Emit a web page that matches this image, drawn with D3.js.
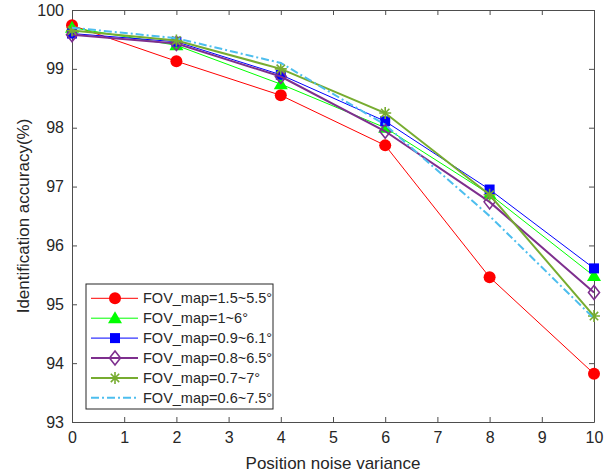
<!DOCTYPE html>
<html>
<head>
<meta charset="utf-8">
<script src="https://cdn.jsdelivr.net/npm/d3@7"></script>
<style>
  body { margin: 0; background: #fff; }
  svg text { font-family: "Liberation Sans", Arial, sans-serif; fill: #262626; }
</style>
</head>
<body>
<div id="chart"></div>
<script>
// data
let xValues = [0, 2, 4, 6, 8, 10];
let seriesNames = ["FOV_map=1.5~5.5°", "FOV_map=1~6°", "FOV_map=0.9~6.1°",
                   "FOV_map=0.8~6.5°", "FOV_map=0.7~7°", "FOV_map=0.6~7.5°"];
let acc15 = [99.74, 99.13, 98.55, 97.70, 95.46, 93.82];
let acc10 = [99.70, 99.40, 98.74, 98.00, 96.87, 95.48];
let acc09 = [99.60, 99.46, 98.90, 98.11, 96.95, 95.61];
let acc08 = [99.58, 99.43, 98.87, 97.94, 96.74, 95.20];
let acc07 = [99.65, 99.48, 99.00, 98.25, 96.86, 94.80];
let acc06 = [99.70, 99.52, 99.10, 98.05, 96.50, 94.76];
let xTicks = [0, 1, 2, 3, 4, 5, 6, 7, 8, 9, 10];
let yTicks = [93, 94, 95, 96, 97, 98, 99, 100];

let styles = [
  {color: "#ff0000", width: 1, marker: "circle", dash: null},
  {color: "#00ff00", width: 1, marker: "triangle", dash: null},
  {color: "#0000ff", width: 1, marker: "square", dash: null},
  {color: "#7e2f8e", width: 2, marker: "diamond", dash: null},
  {color: "#77ac30", width: 2, marker: "star", dash: null},
  {color: "#4dbeee", width: 2, marker: "none", dash: "8,3,2,3"}
];
let allSeries = [acc15, acc10, acc09, acc08, acc07, acc06];

let W = 613, H = 476;
let margin = {left: 72, top: 10, right: 19, bottom: 54};
let iw = W - margin.left - margin.right, ih = H - margin.top - margin.bottom;

var svg = d3.select("#chart").append("svg")
    .attr("width", W).attr("height", H);

var x = d3.scaleLinear().domain([0, 10]).range([0, iw]);
var y = d3.scaleLinear().domain([93, 100]).range([ih, 0]);

var g = svg.append("g").attr("transform", "translate(" + margin.left + "," + margin.top + ")");

function styleAxis(sel) {
  sel.selectAll("path").attr("stroke", "#4d4d4d").attr("stroke-width", 1);
  sel.selectAll("line").attr("stroke", "#4d4d4d");
  sel.selectAll("text").style("font-size", "16px").attr("fill", "#262626");
}

g.append("g").attr("transform", "translate(0," + ih + ")")
  .call(d3.axisBottom(x).tickValues(xTicks).tickFormat(d3.format("d")).tickSize(-5).tickPadding(10).tickSizeOuter(0))
  .call(styleAxis);
g.append("g")
  .call(d3.axisLeft(y).tickValues(yTicks).tickFormat(d3.format("d")).tickSize(-5).tickPadding(8).tickSizeOuter(0))
  .call(styleAxis);
g.append("g")
  .call(d3.axisTop(x).tickValues(xTicks).tickSize(-5).tickFormat("").tickSizeOuter(0))
  .call(styleAxis);
g.append("g").attr("transform", "translate(" + iw + ",0)")
  .call(d3.axisRight(y).tickValues(yTicks).tickSize(-5).tickFormat("").tickSizeOuter(0))
  .call(styleAxis);

// axis titles
svg.append("text")
  .attr("x", margin.left + iw / 2).attr("y", 469)
  .attr("text-anchor", "middle").style("font-size", "17px")
  .text("Position noise variance");
svg.append("text")
  .attr("transform", "translate(29," + (margin.top + ih / 2) + ") rotate(-90)")
  .attr("text-anchor", "middle").style("font-size", "17px")
  .text("Identification accuracy(%)");

var line = d3.line().x((d, i) => x(xValues[i])).y(d => y(d));

function drawMarker(sel, st, cx, cy) {
  if (st.marker == "circle") {
    sel.append("circle").attr("cx", cx).attr("cy", cy).attr("r", 6).attr("fill", st.color);
  } else if (st.marker == "triangle") {
    sel.append("path").attr("transform", "translate(" + cx + "," + cy + ")")
      .attr("d", "M0,-7L7,5L-7,5Z").attr("fill", st.color);
  } else if (st.marker == "square") {
    sel.append("rect").attr("x", cx - 5).attr("y", cy - 5).attr("width", 10).attr("height", 10)
      .attr("fill", st.color);
  } else if (st.marker == "diamond") {
    sel.append("path").attr("transform", "translate(" + cx + "," + cy + ")")
      .attr("d", "M0,-7L5.5,0L0,7L-5.5,0Z").attr("fill", "none")
      .attr("stroke", st.color).attr("stroke-width", 1.6);
  } else if (st.marker == "star") {
    sel.append("path").attr("transform", "translate(" + cx + "," + cy + ")")
      .attr("d", "M0,-6V6M-6,0H6M-4.2,-4.2L4.2,4.2M-4.2,4.2L4.2,-4.2")
      .attr("stroke", st.color).attr("stroke-width", 1.6);
  }
}

allSeries.forEach(function(vals, k) {
  let st = styles[k];
  let sg = g.append("g");
  sg.append("path").datum(vals)
    .attr("d", line).attr("fill", "none")
    .attr("stroke", st.color).attr("stroke-width", st.width)
    .attr("stroke-dasharray", st.dash);
  vals.forEach(function(v, i) { drawMarker(sg, st, x(xValues[i]), y(v)); });
});

// legend
var lg = svg.append("g").attr("transform", "translate(86,284)");
lg.append("rect").attr("width", 187).attr("height", 125)
  .attr("fill", "#fff").attr("stroke", "#262626").attr("stroke-width", 1);
seriesNames.forEach(function(name, k) {
  let st = styles[k];
  let ry = 14.3 + k * 19.9;
  lg.append("line").attr("x1", 5).attr("x2", 52).attr("y1", ry).attr("y2", ry)
    .attr("stroke", st.color).attr("stroke-width", st.width)
    .attr("stroke-dasharray", st.dash);
  drawMarker(lg, st, 29, ry);
  lg.append("text").attr("x", 57).attr("y", ry + 5).style("font-size", "14.5px").text(name);
});
</script>
</body>
</html>
